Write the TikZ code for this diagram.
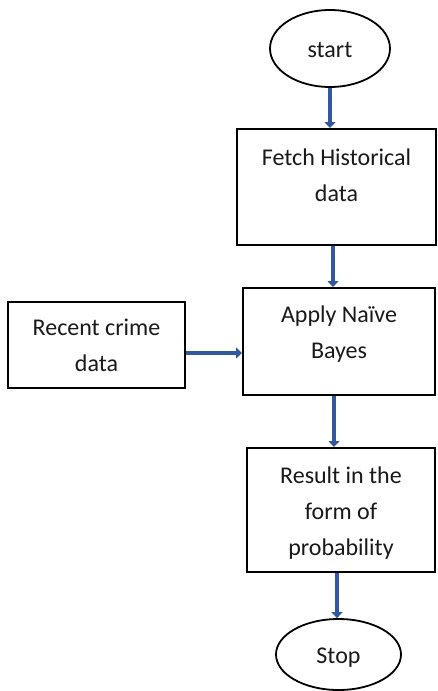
\documentclass[tikz,border=0pt]{standalone}
\usepackage{fontspec}
\setmainfont{Carlito}
\usetikzlibrary{shapes.geometric,arrows.meta}
\definecolor{arrowblue}{RGB}{50,88,160}
\tikzset{
  boxshape/.style={draw=black, line width=2pt, rectangle, inner sep=0pt},
  ovalshape/.style={draw=black, line width=1.8pt, ellipse, inner sep=0pt},
  label text/.style={font=\fontsize{24}{36}\selectfont, align=center, inner sep=0pt, text=black!90},
  flowarrow/.style={draw=arrowblue, line width=4.5pt, -{Triangle[width=11pt,length=6pt]}}
}
\begin{document}
\begin{tikzpicture}[x=1pt, y=-1pt]
\useasboundingbox (0,0) rectangle (438,691);
% shapes
\node[ovalshape, minimum width=120pt, minimum height=77pt] (start) at (330,48.5) {};
\node[boxshape, minimum width=199pt, minimum height=116pt] (fetch) at (336.5,187) {};
\node[boxshape, minimum width=192pt, minimum height=107pt] (apply) at (339,341.5) {};
\node[boxshape, minimum width=177pt, minimum height=86pt] (recent) at (96.5,345) {};
\node[boxshape, minimum width=188pt, minimum height=124pt] (result) at (341,510) {};
\node[ovalshape, minimum width=125pt, minimum height=71pt] (stop) at (338.5,654.5) {};
% texts
\node[label text] (starttext) at (330,50) {start};
\node[label text] (fetchtext) at (336.5,175) {Fetch Historical\\data};
\node[label text] (applytext) at (339,334) {Apply Naïve\\Bayes};
\node[label text] (recenttext) at (96.5,345) {Recent crime\\data};
\node[label text] (resulttext) at (341,513) {Result in the\\form of\\probability};
\node[label text] (stoptext) at (338.5,658) {Stop};
% connectors
\draw[flowarrow] (start.south) -- (start.south |- fetch.north);
\draw[flowarrow] ([xshift=-3.5pt]fetch.south) -- ([xshift=-3.5pt]fetch.south |- apply.north);
\draw[flowarrow] ([yshift=-8pt]recent.east) -- ([yshift=-8pt]recent.east -| apply.west);
\draw[flowarrow] ([xshift=-5pt]apply.south) -- ([xshift=-5pt]apply.south |- result.north);
\draw[flowarrow] ([xshift=-4pt]result.south) -- ([xshift=-4pt]result.south |- stop.north);
\end{tikzpicture}
\end{document}
